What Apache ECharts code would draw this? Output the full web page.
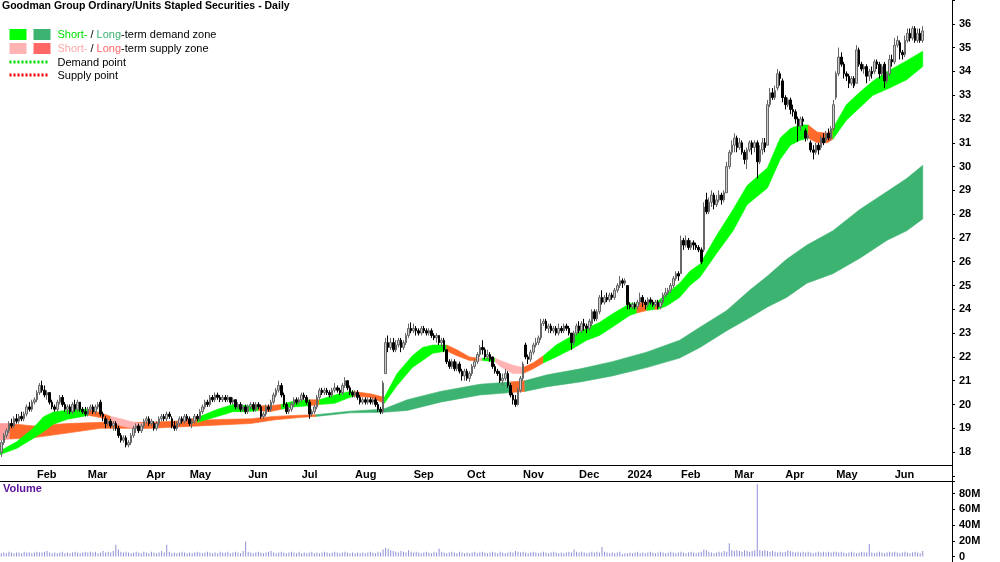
<!DOCTYPE html>
<html>
<head>
<meta charset="utf-8">
<title>Goodman Group - Daily</title>
<script src="https://cdn.jsdelivr.net/npm/echarts@6/dist/echarts.min.js"></script>
<style>
  html, body { margin: 0; padding: 0; background: #fff; }
  #chart { width: 1000px; height: 562px; }
</style>
</head>
<body>
<div id="chart"></div>
<script>
// trading days per month, first label of each month on the axis
const monthNames = ['', 'Feb', 'Mar', 'Apr', 'May', 'Jun', 'Jul', 'Aug', 'Sep', 'Oct', 'Nov', 'Dec', '2024', 'Feb', 'Mar', 'Apr', 'May', 'Jun']
const monthDays = [14, 20, 23, 17, 23, 21, 21, 23, 21, 22, 22, 19, 21, 21, 20, 20, 23, 12]
const emptyDays = 11 // blank space right of the last candle

// [open, close, low, high]
const candles = [
  // Jan 2023
  [18.0, 18.4, 17.8, 18.5], [18.4, 18.7, 18.3, 18.8], [18.7, 18.9, 18.6, 19.0], [18.9, 19.2, 18.8, 19.3],
  [19.2, 19.1, 19.0, 19.4], [19.1, 19.4, 19.0, 19.5], [19.4, 19.3, 19.2, 19.6], [19.3, 19.5, 19.2, 19.6],
  [19.5, 19.4, 19.3, 19.7], [19.4, 19.6, 19.3, 19.7], [19.6, 19.9, 19.5, 20.0], [19.9, 19.8, 19.7, 20.1],
  [19.8, 20.1, 19.7, 20.2], [20.1, 20.2, 20.0, 20.3],
  // Feb
  [20.2, 20.5, 20.1, 20.6], [20.5, 20.8, 20.4, 20.9], [20.8, 20.6, 20.5, 21.0], [20.6, 20.4, 20.3, 20.8],
  [20.4, 20.5, 20.2, 20.6], [20.5, 20.1, 20.0, 20.5], [20.1, 19.9, 19.8, 20.2], [19.9, 19.8, 19.7, 20.0],
  [19.8, 20.1, 19.7, 20.2], [20.1, 20.3, 20.0, 20.4], [20.3, 20.0, 19.9, 20.4], [20.0, 19.8, 19.7, 20.1],
  [19.8, 19.9, 19.6, 20.0], [19.9, 19.7, 19.6, 20.0], [19.7, 20.0, 19.6, 20.1], [20.0, 19.8, 19.7, 20.2],
  [19.8, 20.1, 19.7, 20.2], [20.1, 19.8, 19.7, 20.1], [19.8, 19.7, 19.6, 19.9], [19.7, 19.6, 19.5, 19.9],
  // Mar
  [19.6, 19.8, 19.5, 19.9], [19.8, 19.9, 19.7, 20.0], [19.9, 19.7, 19.6, 20.0], [19.7, 19.9, 19.6, 20.0],
  [19.9, 20.0, 19.8, 20.1], [20.1, 19.6, 19.5, 20.2], [19.6, 19.5, 19.3, 19.7], [19.4, 19.2, 19.0, 19.5],
  [19.2, 19.3, 19.1, 19.4], [19.3, 19.1, 19.0, 19.4], [19.1, 19.2, 18.9, 19.3], [19.2, 19.0, 18.9, 19.3],
  [19.0, 18.7, 18.6, 19.1], [18.7, 18.5, 18.4, 18.8], [18.5, 18.6, 18.4, 18.7], [18.6, 18.3, 18.2, 18.7],
  [18.3, 18.4, 18.2, 18.5], [18.4, 18.7, 18.3, 18.8], [18.7, 19.0, 18.6, 19.1], [19.0, 19.1, 18.8, 19.2],
  [19.1, 18.9, 18.8, 19.2], [18.9, 19.1, 18.8, 19.2], [19.1, 19.3, 19.0, 19.4],
  // Apr
  [19.3, 19.4, 19.2, 19.5], [19.4, 19.2, 19.1, 19.5], [19.2, 19.3, 19.1, 19.4], [19.2, 19.0, 18.9, 19.3],
  [19.0, 19.2, 18.9, 19.3], [19.2, 19.4, 19.1, 19.5], [19.4, 19.5, 19.3, 19.6], [19.5, 19.4, 19.3, 19.6],
  [19.4, 19.6, 19.3, 19.7], [19.6, 19.5, 19.4, 19.7], [19.4, 19.1, 19.0, 19.5], [19.1, 19.0, 18.9, 19.3],
  [19.0, 19.2, 18.9, 19.3], [19.2, 19.4, 19.1, 19.5], [19.4, 19.3, 19.2, 19.5], [19.3, 19.5, 19.2, 19.6],
  [19.5, 19.4, 19.3, 19.6],
  // May
  [19.4, 19.2, 19.1, 19.5], [19.2, 19.3, 19.0, 19.4], [19.3, 19.5, 19.2, 19.6], [19.5, 19.4, 19.3, 19.6],
  [19.4, 19.7, 19.3, 19.8], [19.7, 19.9, 19.6, 20.0], [19.9, 20.1, 19.8, 20.2], [20.1, 20.0, 19.9, 20.2],
  [20.0, 20.3, 19.9, 20.4], [20.3, 20.2, 20.1, 20.4], [20.2, 20.4, 20.1, 20.5], [20.4, 20.3, 20.2, 20.5],
  [20.3, 20.2, 20.1, 20.4], [20.2, 20.3, 20.1, 20.4], [20.3, 20.2, 20.1, 20.4], [20.2, 20.3, 20.1, 20.4],
  [20.3, 20.1, 20.0, 20.3], [20.1, 20.2, 20.0, 20.3], [20.2, 19.9, 19.8, 20.2], [19.9, 20.0, 19.8, 20.1],
  [20.0, 19.8, 19.7, 20.1], [19.8, 19.9, 19.7, 20.0], [19.9, 19.7, 19.6, 20.0],
  // Jun
  [19.7, 19.9, 19.6, 20.0], [19.9, 20.0, 19.8, 20.1], [20.0, 19.8, 19.7, 20.1], [19.8, 20.0, 19.7, 20.1],
  [20.0, 19.9, 19.8, 20.1], [19.9, 19.5, 19.4, 20.0], [19.5, 19.6, 19.4, 19.7], [19.6, 19.9, 19.5, 20.0],
  [19.9, 19.8, 19.7, 20.0], [19.8, 20.1, 19.7, 20.2], [20.1, 20.4, 20.0, 20.5], [20.4, 20.6, 20.3, 20.7],
  [20.6, 20.8, 20.5, 21.0], [20.8, 20.4, 20.3, 20.9], [20.4, 20.0, 19.9, 20.5], [20.0, 19.7, 19.6, 20.1],
  [19.7, 19.8, 19.6, 19.9], [19.8, 20.0, 19.7, 20.1], [20.0, 20.2, 19.9, 20.3], [20.2, 20.1, 20.0, 20.3],
  [20.1, 20.2, 20.0, 20.3],
  // Jul
  [20.2, 20.4, 20.1, 20.5], [20.4, 20.3, 20.2, 20.5], [20.3, 20.1, 20.0, 20.4], [20.1, 19.6, 19.4, 20.2],
  [19.6, 19.7, 19.5, 19.8], [19.7, 19.9, 19.6, 20.0], [19.9, 20.3, 19.8, 20.4], [20.3, 20.6, 20.2, 20.7],
  [20.6, 20.5, 20.4, 20.7], [20.5, 20.6, 20.4, 20.7], [20.6, 20.5, 20.4, 20.7], [20.5, 20.4, 20.3, 20.6],
  [20.4, 20.6, 20.3, 20.7], [20.6, 20.7, 20.5, 20.9], [20.7, 20.6, 20.5, 20.8], [20.6, 20.5, 20.4, 20.7],
  [20.5, 20.8, 20.4, 20.9], [20.8, 21.0, 20.7, 21.15], [21.0, 20.7, 20.6, 21.0], [20.7, 20.5, 20.4, 20.8],
  [20.5, 20.4, 20.3, 20.6],
  // Aug
  [20.4, 20.5, 20.3, 20.6], [20.5, 20.3, 20.2, 20.6], [20.3, 20.1, 20.0, 20.4], [20.1, 20.2, 20.0, 20.3],
  [20.2, 20.1, 20.0, 20.3], [20.1, 20.2, 20.0, 20.3], [20.2, 20.1, 20.0, 20.3], [20.1, 20.2, 20.0, 20.3],
  [20.2, 20.0, 19.9, 20.3], [20.0, 19.8, 19.7, 20.1], [19.8, 19.7, 19.6, 19.9], [19.7, 20.9, 19.6, 21.0],
  [21.3, 22.6, 21.3, 22.8], [22.6, 22.4, 22.2, 22.9], [22.4, 22.6, 22.3, 22.8], [22.6, 22.3, 22.2, 22.8],
  [22.3, 22.5, 22.2, 22.7], [22.5, 22.7, 22.4, 22.8], [22.7, 22.4, 22.2, 22.8], [22.4, 22.6, 22.3, 22.7],
  [22.6, 22.9, 22.5, 23.0], [22.9, 23.2, 22.8, 23.4], [23.2, 23.1, 23.0, 23.45],
  // Sep
  [23.1, 23.2, 23.0, 23.4], [23.2, 23.1, 22.9, 23.3], [23.1, 23.0, 22.9, 23.2], [23.0, 23.2, 22.9, 23.3],
  [23.2, 23.1, 23.0, 23.3], [23.1, 23.0, 22.9, 23.2], [23.0, 23.1, 22.9, 23.2], [23.1, 22.9, 22.8, 23.2],
  [22.9, 22.8, 22.7, 23.0], [22.8, 22.9, 22.6, 23.0], [22.9, 22.6, 22.5, 22.9], [22.6, 22.7, 22.4, 22.8],
  [22.7, 22.3, 22.2, 22.8], [22.3, 21.8, 21.7, 22.3], [21.8, 21.6, 21.5, 21.9], [21.6, 21.8, 21.5, 21.9],
  [21.8, 21.5, 21.4, 21.9], [21.5, 21.7, 21.4, 21.8], [21.7, 21.4, 21.3, 21.8], [21.4, 21.2, 21.0, 21.5],
  [21.2, 21.4, 21.0, 21.5],
  // Oct
  [21.4, 21.1, 21.0, 21.5], [21.1, 21.3, 20.95, 21.4], [21.3, 21.6, 21.2, 21.7], [21.6, 21.8, 21.5, 21.9],
  [21.8, 22.1, 21.7, 22.2], [22.1, 22.4, 22.0, 22.5], [22.4, 22.3, 22.1, 22.7], [22.3, 22.0, 21.9, 22.4],
  [22.0, 22.1, 21.9, 22.3], [22.1, 21.9, 21.8, 22.2], [22.0, 21.6, 21.5, 22.0], [21.6, 21.4, 21.3, 21.7],
  [21.4, 21.3, 21.2, 21.5], [21.3, 21.0, 20.9, 21.4], [21.0, 21.1, 20.8, 21.3], [21.1, 21.3, 21.0, 21.5],
  [21.3, 20.8, 20.7, 21.4], [20.8, 20.4, 20.3, 20.9], [20.4, 20.2, 20.0, 20.5], [20.2, 20.0, 19.9, 20.4],
  [20.0, 20.6, 19.95, 20.7], [20.6, 21.1, 20.5, 21.2],
  // Nov
  [21.1, 21.7, 21.0, 21.8], [22.5, 22.0, 21.9, 22.6], [22.0, 21.9, 21.7, 22.1], [21.9, 22.2, 21.8, 22.3],
  [22.2, 22.5, 22.1, 22.6], [22.5, 22.6, 22.4, 22.8], [22.6, 22.8, 22.5, 22.9], [22.8, 23.4, 22.7, 23.6],
  [23.4, 23.5, 23.3, 23.6], [23.5, 23.2, 23.1, 23.6], [23.2, 23.3, 23.0, 23.4], [23.3, 23.1, 23.0, 23.4],
  [23.1, 23.2, 23.0, 23.3], [23.2, 23.0, 22.9, 23.3], [23.0, 23.2, 22.9, 23.4], [23.2, 23.1, 23.0, 23.3],
  [23.1, 23.3, 23.0, 23.4], [23.3, 23.2, 23.1, 23.4], [23.2, 23.0, 22.9, 23.3], [23.0, 22.6, 22.3, 23.0],
  [22.6, 23.0, 22.5, 23.1], [23.0, 23.3, 22.9, 23.4],
  // Dec
  [23.3, 23.1, 23.0, 23.5], [23.1, 23.4, 23.0, 23.5], [23.4, 23.3, 23.1, 23.6], [23.3, 23.2, 23.0, 23.4],
  [23.2, 23.5, 23.1, 23.6], [23.4, 23.9, 23.3, 24.0], [23.9, 23.6, 23.5, 24.0], [23.6, 23.9, 23.5, 24.0],
  [23.9, 24.5, 23.8, 24.6], [24.5, 24.3, 24.2, 24.8], [24.3, 24.5, 24.2, 24.6], [24.5, 24.4, 24.3, 24.7],
  [24.4, 24.6, 24.3, 24.7], [24.6, 24.5, 24.4, 24.7], [24.5, 24.8, 24.4, 24.9], [24.8, 25.0, 24.7, 25.1],
  [25.0, 25.2, 24.9, 25.4], [25.2, 25.1, 24.9, 25.3], [25.1, 25.2, 25.0, 25.3],
  // Jan 2024
  [25.0, 24.2, 24.0, 25.0], [24.2, 24.1, 24.0, 24.3], [24.1, 24.2, 24.0, 24.3], [24.2, 24.1, 24.0, 24.3],
  [24.1, 24.3, 24.0, 24.4], [24.3, 24.5, 24.2, 24.7], [24.5, 24.3, 24.1, 24.6], [24.3, 24.2, 24.0, 24.4],
  [24.2, 24.4, 24.1, 24.5], [24.4, 24.3, 24.2, 24.5], [24.3, 24.2, 24.1, 24.4], [24.2, 24.3, 24.1, 24.4],
  [24.3, 24.1, 24.0, 24.4], [24.1, 24.3, 24.0, 24.4], [24.3, 24.6, 24.2, 24.7], [24.6, 24.7, 24.5, 24.9],
  [24.7, 24.8, 24.6, 24.9], [24.8, 25.0, 24.7, 25.1], [25.0, 25.3, 24.9, 25.4], [25.3, 25.5, 25.2, 25.6],
  [25.5, 25.4, 25.2, 25.6],
  // Feb
  [25.5, 26.9, 25.5, 27.1], [26.9, 26.7, 26.5, 27.0], [26.7, 26.9, 26.6, 27.1], [26.9, 26.6, 26.5, 27.0],
  [26.6, 26.8, 26.5, 26.9], [26.8, 26.7, 26.5, 26.9], [26.7, 26.6, 26.5, 26.8], [26.6, 26.5, 26.4, 26.7],
  [26.5, 26.0, 25.9, 26.6], [26.5, 28.3, 26.4, 28.5], [28.6, 28.1, 28.0, 28.9], [28.1, 28.5, 28.0, 28.7],
  [28.5, 28.8, 28.3, 29.0], [28.8, 28.4, 28.2, 28.9], [28.4, 28.6, 28.3, 28.8], [28.6, 28.8, 28.5, 29.0],
  [28.8, 28.6, 28.4, 28.9], [28.6, 28.9, 28.5, 29.0], [28.9, 30.0, 28.9, 30.2], [30.0, 30.6, 29.9, 30.7],
  [30.6, 30.9, 30.5, 31.1],
  // Mar
  [30.9, 31.2, 30.6, 31.4], [31.2, 30.8, 30.6, 31.3], [30.8, 31.0, 30.7, 31.2], [31.0, 30.6, 30.5, 31.1],
  [30.6, 30.3, 30.1, 30.7], [30.3, 30.7, 29.9, 30.8], [30.7, 31.0, 30.6, 31.1], [31.0, 30.8, 30.5, 31.1],
  [30.8, 31.0, 30.6, 31.1], [31.0, 30.2, 29.5, 31.1], [30.2, 30.7, 30.1, 30.9], [30.7, 31.0, 30.5, 31.2],
  [31.0, 30.8, 30.6, 31.2], [30.9, 32.6, 30.9, 32.8], [32.6, 33.1, 32.5, 33.3], [33.1, 32.9, 32.8, 33.3],
  [32.9, 33.2, 32.8, 33.4], [33.3, 33.9, 33.2, 34.1], [33.9, 33.7, 33.4, 34.0], [33.6, 32.9, 32.7, 33.7],
  // Apr
  [32.9, 32.6, 32.4, 33.0], [32.6, 32.8, 32.5, 32.9], [32.8, 32.4, 32.2, 32.9], [32.4, 32.3, 32.1, 32.6],
  [32.3, 32.0, 31.8, 32.4], [32.0, 31.7, 31.05, 32.1], [31.7, 32.0, 31.5, 32.1], [32.0, 31.9, 31.7, 32.1],
  [31.5, 31.2, 31.05, 31.6], [31.2, 31.3, 31.1, 31.4], [31.0, 30.7, 30.6, 31.1], [30.7, 30.6, 30.3, 30.9],
  [30.6, 30.9, 30.5, 31.0], [30.9, 30.7, 30.5, 31.0], [30.8, 31.2, 30.7, 31.3], [31.2, 31.0, 30.9, 31.4],
  [31.1, 31.4, 31.0, 31.5], [31.4, 31.2, 31.1, 31.6], [31.2, 31.6, 31.1, 31.7], [31.6, 32.6, 31.5, 32.8],
  // May
  [32.9, 33.9, 32.8, 34.0], [33.9, 34.6, 33.8, 35.0], [34.6, 34.3, 34.2, 34.8], [34.3, 33.9, 33.7, 34.4],
  [33.9, 33.8, 33.6, 34.0], [33.8, 33.5, 33.3, 33.9], [33.5, 33.7, 33.4, 33.8], [33.7, 33.4, 33.3, 33.8],
  [33.5, 34.9, 33.5, 35.1], [34.9, 34.3, 34.2, 35.0], [34.3, 34.1, 34.0, 34.4], [34.1, 34.2, 33.9, 34.3],
  [34.2, 33.8, 33.5, 34.3], [33.8, 34.0, 33.6, 34.1], [34.0, 33.9, 33.7, 34.2], [34.0, 34.4, 33.9, 34.5],
  [34.4, 34.3, 34.1, 34.5], [34.3, 33.9, 33.7, 34.4], [33.9, 34.2, 33.8, 34.3], [34.3, 33.6, 33.3, 34.4],
  [33.6, 33.9, 33.5, 34.0], [33.9, 34.5, 33.8, 34.7], [34.5, 34.4, 34.2, 34.7],
  // Jun
  [34.4, 35.1, 34.3, 35.4], [35.1, 35.3, 35.0, 35.5], [35.2, 34.8, 34.5, 35.3], [34.8, 34.7, 34.5, 34.9],
  [34.7, 35.3, 34.6, 35.5], [35.3, 35.6, 35.2, 35.8], [35.6, 35.4, 35.25, 35.8], [35.4, 35.8, 35.3, 35.9],
  [35.8, 35.3, 35.2, 35.9], [35.3, 35.6, 35.2, 35.8], [35.6, 35.3, 35.2, 35.8], [35.3, 35.7, 35.2, 35.9]
]

// daily volume, millions
const volumes = [
  4, 5, 4, 6, 5, 4, 5, 5, 4, 6, 5, 5, 4, 5,
  6, 5, 5, 6, 7, 5, 4, 5, 4, 5, 6, 4, 5, 4, 5, 6, 5, 4, 5, 6,
  5, 6, 5, 6, 4, 5, 7, 5, 6, 5, 7, 15, 9, 6, 5, 6, 5, 4, 5, 6, 5, 4, 6,
  5, 4, 6, 5, 4, 5, 7, 5, 15, 6, 4, 5, 4, 5, 6, 5, 4,
  5, 4, 5, 6, 5, 4, 5, 6, 5, 4, 5, 4, 6, 5, 5, 6, 4, 5, 6, 5, 4, 7, 19,
  6, 5, 4, 5, 6, 5, 4, 5, 6, 7, 5, 4, 5, 6, 5, 4, 5, 6, 5, 4, 6,
  4, 5, 4, 5, 6, 4, 5, 4, 5, 6, 5, 4, 5, 6, 5, 4, 5, 6, 5, 4, 5,
  4, 5, 4, 5, 4, 5, 6, 5, 4, 6, 5, 9, 11, 10, 8, 7, 6, 5, 7, 6, 5, 8, 6,
  5, 6, 5, 4, 5, 6, 5, 4, 6, 5, 10, 6, 5, 4, 5, 6, 5, 4, 6, 5, 4,
  5, 4, 5, 6, 4, 5, 6, 5, 4, 5, 6, 5, 4, 6, 5, 4, 5, 6, 5, 7, 6, 5,
  6, 5, 4, 5, 6, 5, 4, 5, 6, 5, 4, 5, 6, 5, 4, 5, 4, 5, 6, 5, 9, 6,
  5, 6, 5, 4, 5, 6, 5, 6, 5, 12, 6, 5, 4, 5, 4, 5, 6, 3, 4,
  4, 5, 4, 5, 6, 4, 5, 4, 5, 6, 5, 4, 5, 6, 5, 4, 5, 6, 5, 4, 5,
  6, 5, 4, 5, 6, 5, 4, 5, 6, 9, 8, 6, 5, 4, 5, 6, 5, 7, 6, 17, 8,
  7, 8, 7, 6, 8, 7, 6, 7, 8, 92, 8, 7, 8, 7, 6, 7, 6, 5, 6, 5,
  6, 8, 7, 6, 5, 6, 5, 6, 5, 6, 5, 4, 5, 6, 5, 6, 5, 6, 5, 6,
  6, 5, 6, 5, 4, 5, 6, 5, 4, 5, 6, 5, 5, 16, 5, 4, 5, 6, 5, 4, 5, 6, 5,
  6, 5, 4, 5, 6, 5, 4, 5, 6, 5, 4, 7
]

// zones: [day index, upper, lower, zone kind of the stretch that follows]
// g short demand, G long demand, p short supply, o orange supply, r long supply
const shortZone = [
  [-0.5, 18.05, 17.9, 'g'], [6, 18.43, 18.15, 'g'], [12.5, 19.0, 18.57, 'g'], [16.5, 19.48, 18.85, 'g'],
  [20.5, 19.69, 19.17, 'g'], [26, 19.76, 19.38, 'g'], [32, 19.8, 19.5, 'g'], [34, 19.8, 19.55, 'o'],
  [39, 19.65, 19.45, 'o'], [43, 19.5, 19.3, 'p'], [47, 19.4, 19.1, 'p'], [52, 19.25, 19.0, 'p'],
  [56, 19.2, 19.0, 'o'], [66, 19.2, 19.1, 'o'], [77, 19.45, 19.25, 'g'], [85, 19.8, 19.5, 'g'],
  [91, 20.0, 19.7, 'g'], [96.5, 19.95, 19.7, 'g'], [101, 19.95, 19.75, 'o'], [105.5, 19.95, 19.7, 'o'],
  [110, 20.0, 19.8, 'g'], [115, 20.15, 19.9, 'g'], [121, 20.2, 19.95, 'o'], [125, 20.2, 20.0, 'g'],
  [131, 20.4, 20.05, 'g'], [137, 20.55, 20.3, 'g'], [138.5, 20.55, 20.35, 'o'], [145, 20.45, 20.3, 'o'],
  [150.5, 20.3, 20.05, 'g'], [155.5, 21.3, 20.8, 'g'], [161.5, 22.05, 21.55, 'g'], [165.5, 22.4, 21.85, 'g'],
  [169.5, 22.5, 22.15, 'g'], [175, 22.5, 22.25, 'o'], [179, 22.3, 22.05, 'o'], [184, 22.0, 21.85, 'o'],
  [187, 21.95, 21.85, 'p'], [189, 21.95, 21.85, 'g'], [194, 21.95, 21.8, 'p'], [196, 21.85, 21.6, 'p'],
  [201, 21.65, 21.3, 'p'], [205, 21.55, 21.3, 'o'], [209, 21.75, 21.5, 'o'], [213, 22.05, 21.75, 'g'],
  [218, 22.5, 22.0, 'g'], [224.5, 22.9, 22.35, 'g'], [230, 23.2, 22.7, 'g'], [235, 23.45, 22.9, 'g'],
  [240, 23.8, 23.25, 'g'], [247, 24.25, 23.75, 'g'], [249.7, 24.25, 23.85, 'o'], [253.6, 24.3, 23.95, 'g'],
  [256.8, 24.3, 24.0, 'o'], [258, 24.35, 24.0, 'g'], [261.5, 24.65, 24.15, 'g'], [266.5, 25.1, 24.5, 'g'],
  [270.5, 25.6, 25.0, 'g'], [274.5, 25.9, 25.35, 'g'], [281, 27.1, 26.35, 'g'], [287.5, 28.2, 27.3, 'g'],
  [293, 29.2, 28.4, 'g'], [301, 29.95, 29.1, 'g'], [306, 31.2, 30.3, 'g'], [310, 31.6, 30.9, 'g'],
  [313.7, 31.75, 31.1, 'g'], [317, 31.75, 31.2, 'o'], [320.5, 31.45, 31.0, 'o'], [324.5, 31.4, 31.0, 'o'],
  [326.7, 31.6, 31.15, 'g'], [332, 32.6, 31.95, 'g'], [337, 33.1, 32.45, 'g'], [342.5, 33.6, 33.0, 'g'],
  [349, 34.05, 33.3, 'g'], [355.7, 34.45, 33.65, 'g'], [362, 34.85, 34.2, 'g']
]
const longZone = [
  [-0.5, 19.2, 18.5, 'r'], [3.4, 19.2, 18.55, 'o'], [12.5, 19.1, 18.6, 'o'], [26, 19.2, 18.8, 'o'],
  [39, 19.25, 19.0, 'o'], [58.5, 19.25, 19.0, 'o'], [78, 19.35, 19.1, 'o'], [98, 19.4, 19.2, 'o'],
  [107, 19.5, 19.35, 'o'], [117, 19.55, 19.45, 'o'], [123.6, 19.57, 19.5, 'G'], [137, 19.72, 19.65, 'G'],
  [150, 19.8, 19.67, 'G'], [159.5, 20.2, 19.75, 'G'], [172.5, 20.55, 20.1, 'G'], [188, 20.85, 20.4, 'G'],
  [200, 20.95, 20.5, 'o'], [205.7, 21.0, 20.55, 'G'], [214.5, 21.25, 20.75, 'G'], [227.5, 21.5, 20.95, 'G'],
  [240, 21.8, 21.2, 'G'], [253.5, 22.2, 21.55, 'G'], [266.5, 22.7, 21.95, 'G'], [274.5, 23.25, 22.4, 'G'],
  [285, 23.95, 23.1, 'G'], [294, 24.8, 23.65, 'G'], [301, 25.4, 24.1, 'G'], [308.5, 26.1, 24.5, 'G'],
  [316.5, 26.7, 25.1, 'G'], [326.7, 27.3, 25.5, 'G'], [337.3, 28.2, 26.15, 'G'], [348, 28.95, 26.9, 'G'],
  [355.7, 29.5, 27.3, 'G'], [362, 30.05, 27.8, 'G']
]

const priceTicks = { min: 17, max: 37, first: 18, last: 36 }
const volumeTicks = { max: 96, step: 20, last: 80 }

const zoneColors = { g: '#00ff00', G: '#3cb371', p: '#ffb3b3', o: '#ff6a2a', r: '#ff9c9c' }
const font = 'Liberation Sans, Arial, sans-serif'

// category labels: month name on first trading day
const dayLabels = []
monthNames.forEach((m, k) => {
  for (let d = 0; d < monthDays[k]; d++) dayLabels.push(d === 0 ? m : '')
})
for (let d = 0; d < emptyDays; d++) dayLabels.push('')
const days = dayLabels.map((_, i) => String(i))
const isMonthStart = (i) => dayLabels[i] !== ''

// group zone samples into runs of one colour
function toRuns (band) {
  const runs = []
  let start = 0
  for (let k = 1; k < band.length; k++) {
    if (band[k][3] !== band[start][3] || k === band.length - 1) {
      runs.push({ from: start, to: k, kind: band[start][3] })
      start = k
    }
  }
  return runs
}

function zoneSeries (band, z) {
  const runs = toRuns(band)
  return {
    type: 'custom',
    xAxisIndex: 1,
    yAxisIndex: 0,
    z: z,
    silent: true,
    encode: { x: 0, y: 1 },
    data: runs.map(r => [band[r.from][0], band[r.from][1]]),
    renderItem: function (params, api) {
      const run = runs[params.dataIndex]
      const top = []
      const bottom = []
      for (let k = run.from; k <= run.to; k++) {
        top.push(api.coord([band[k][0], band[k][1]]))
        bottom.push(api.coord([band[k][0], band[k][2]]))
      }
      const color = zoneColors[run.kind]
      return {
        type: 'polygon',
        shape: { points: top.concat(bottom.reverse()) },
        style: { fill: color, stroke: color, lineWidth: 0.6 }
      }
    }
  }
}

const pxPerUnit = 430 / 18 // 36 sits at y=22, 18 at y=452
const priceTop = 22 - (priceTicks.max - 36) * pxPerUnit
const priceHeight = (priceTicks.max - priceTicks.min) * pxPerUnit

const axisText = { fontFamily: font, fontSize: 11, fontWeight: 'bold', color: '#000' }

const chart = echarts.init(document.getElementById('chart'))
chart.setOption({
  animation: false,
  backgroundColor: '#ffffff',
  title: {
    text: 'Goodman Group Ordinary/Units Stapled Securities - Daily',
    left: 2,
    top: 1,
    padding: 0,
    textStyle: { fontFamily: font, fontSize: 10.5, fontWeight: 'bold', color: '#000' }
  },
  grid: [
    { left: 0, right: 48, top: priceTop, height: priceHeight }, // price
    { left: 0, right: 48, top: 0, height: 465 }, // date axis strip
    { left: 0, right: 48, top: 481, height: 77 } // volume
  ],
  xAxis: [
    { type: 'category', gridIndex: 0, data: days, show: false },
    { type: 'value', gridIndex: 0, min: -0.5, max: days.length - 0.5, show: false },
    {
      type: 'category',
      gridIndex: 1,
      data: days,
      axisLine: { onZero: false, lineStyle: { color: '#000', width: 1 } },
      axisTick: { interval: isMonthStart, length: 4, lineStyle: { color: '#000' } },
      axisLabel: Object.assign({
        interval: isMonthStart,
        formatter: (v, i) => dayLabels[i],
        align: 'left',
        margin: 4
      }, axisText)
    },
    {
      type: 'category',
      gridIndex: 2,
      data: days,
      position: 'top',
      axisLine: { onZero: false, lineStyle: { color: '#000', width: 1 } },
      axisTick: { show: false },
      axisLabel: { show: false }
    }
  ],
  yAxis: [
    {
      type: 'value',
      gridIndex: 0,
      position: 'right',
      min: priceTicks.min,
      max: priceTicks.max,
      interval: 1,
      splitLine: { show: false },
      axisLine: { show: false, onZero: false },
      axisTick: { show: true, length: 3, lineStyle: { color: '#000' } },
      axisLabel: Object.assign({
        margin: 7,
        formatter: v => (v < priceTicks.first || v > priceTicks.last) ? '' : String(v)
      }, axisText)
    },
    {
      type: 'value',
      gridIndex: 2,
      position: 'right',
      min: 0,
      max: volumeTicks.max,
      interval: volumeTicks.step,
      splitLine: { show: false },
      axisLine: { show: false, onZero: false },
      axisTick: { show: true, length: 3, lineStyle: { color: '#000' } },
      axisLabel: Object.assign({
        margin: 7,
        formatter: v => (v === 0 ? '0' : v > volumeTicks.last ? '' : v + 'M')
      }, axisText)
    },
    { type: 'value', gridIndex: 1, show: false, axisLine: { onZero: false } }
  ],
  series: [
    zoneSeries(longZone, 1),
    zoneSeries(shortZone, 1),
    {
      type: 'candlestick',
      xAxisIndex: 0,
      yAxisIndex: 0,
      z: 3,
      barWidth: 2,
      data: candles,
      itemStyle: {
        color: '#cccccc',
        borderColor: '#666666',
        color0: '#000000',
        borderColor0: '#000000',
        borderWidth: 1
      }
    },
    {
      type: 'bar',
      xAxisIndex: 3,
      yAxisIndex: 1,
      barWidth: 1,
      data: volumes,
      itemStyle: { color: '#8f8fd6' }
    }
  ],
  graphic: [
    { type: 'line', shape: { x1: 952.5, y1: 0, x2: 952.5, y2: 562 }, style: { stroke: '#000', lineWidth: 1 } },
    {
      type: 'text', left: 3, top: 483,
      style: { text: 'Volume', font: 'bold 11px ' + font, fill: '#5a0f9a' }
    },
    {
      type: 'group', left: 7, top: 29,
      children: [
        { type: 'rect', shape: { x: 0, y: 0, width: 17, height: 11 }, style: { fill: zoneColors.g } },
        { type: 'rect', shape: { x: 24, y: 0, width: 17, height: 11 }, style: { fill: zoneColors.G } },
        { type: 'rect', shape: { x: 0, y: 14, width: 17, height: 11 }, style: { fill: '#ffb3b3' } },
        { type: 'rect', shape: { x: 24, y: 14, width: 17, height: 11 }, style: { fill: '#ff6666' } },
        { type: 'line', shape: { x1: 0, y1: 33, x2: 40, y2: 33 }, style: { stroke: '#00dd00', lineWidth: 3, lineDash: [2, 2] } },
        { type: 'line', shape: { x1: 0, y1: 46, x2: 40, y2: 46 }, style: { stroke: '#ee0000', lineWidth: 3, lineDash: [2, 2] } },
        {
          type: 'text', x: 48, y: 0,
          style: {
            text: '{a|Short-} / {b|Long}-term demand zone',
            font: '11px ' + font,
            fill: '#000',
            rich: {
              a: { fill: '#00e000', font: '11px ' + font },
              b: { fill: '#3cb371', font: '11px ' + font }
            }
          }
        },
        {
          type: 'text', x: 48, y: 14,
          style: {
            text: '{a|Short-} / {b|Long}-term supply zone',
            font: '11px ' + font,
            fill: '#000',
            rich: {
              a: { fill: '#ffa8a8', font: '11px ' + font },
              b: { fill: '#ff6666', font: '11px ' + font }
            }
          }
        },
        { type: 'text', x: 48, y: 28, style: { text: 'Demand point', font: '11px ' + font, fill: '#000' } },
        { type: 'text', x: 48, y: 41, style: { text: 'Supply point', font: '11px ' + font, fill: '#000' } }
      ]
    }
  ]
})
</script>
</body>
</html>
